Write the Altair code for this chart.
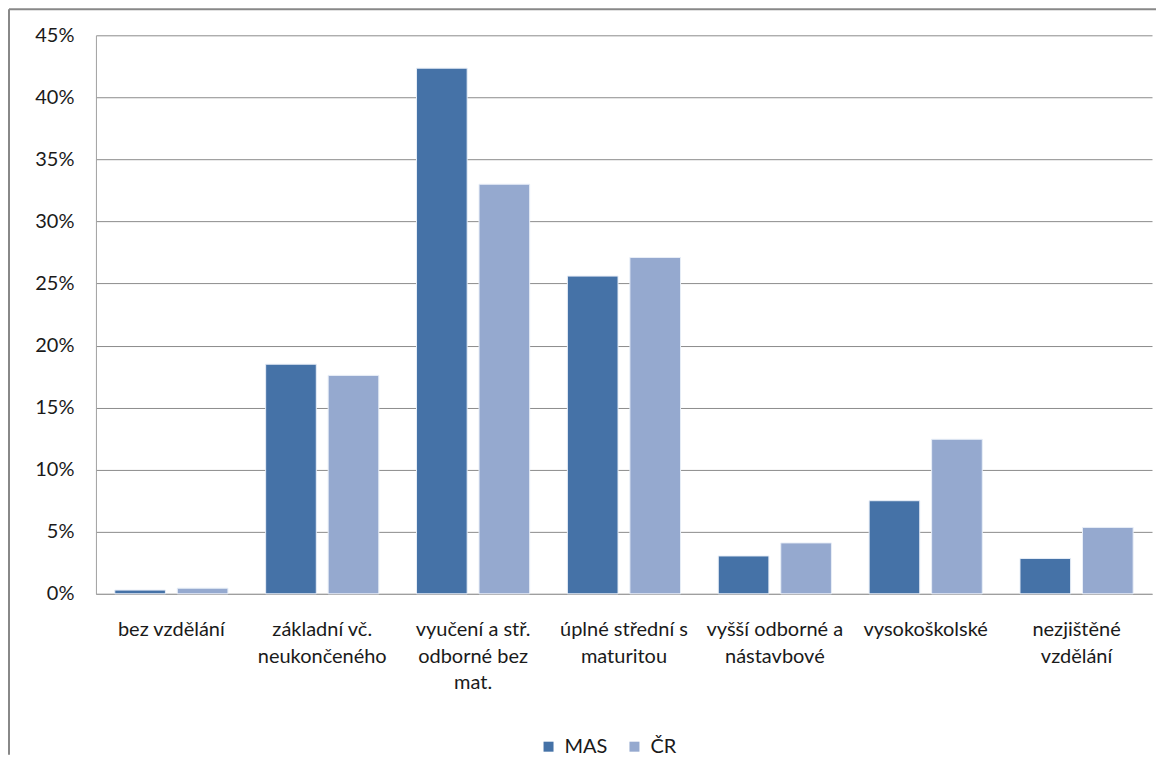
import altair as alt
import pandas as pd

# ---- data ----
categories = [
    "bez vzdělání",
    "základní vč.|neukončeného",
    "vyučení a stř.|odborné bez|mat.",
    "úplné střední s|maturitou",
    "vyšší odborné a|nástavbové",
    "vysokoškolské",
    "nezjištěné|vzdělání",
]
series = ["MAS", "ČR"]
mas_values = [0.3, 18.5, 42.35, 25.6, 3.05, 7.5, 2.85]
cr_values = [0.45, 17.6, 33.0, 27.1, 4.1, 12.45, 5.35]
y_ticks = [0, 5, 10, 15, 20, 25, 30, 35, 40, 45]
colors = ["#4572A7", "#95A9CF"]

rows = []
for cat, m, c in zip(categories, mas_values, cr_values):
    rows.append({"kategorie": cat, "serie": "MAS", "hodnota": m})
    rows.append({"kategorie": cat, "serie": "ČR", "hodnota": c})
df = pd.DataFrame(rows)

FONT = "Lato"
FS = 20
GRID = "#8c8c8c"
TEXT = "#1a1a1a"

bars = alt.Chart(df).mark_bar(stroke="#e8eef7", strokeWidth=1).encode(
    x=alt.X(
        "kategorie:N",
        sort=categories,
        scale=alt.Scale(paddingInner=0.25, paddingOuter=0.125),
        axis=alt.Axis(
            title=None,
            labelAngle=0,
            labelExpr="split(datum.label, '|')",
            ticks=False,
            domainColor="#a0a0a0",
            domainWidth=1,
            labelPadding=26,
            labelFontSize=FS,
            labelLineHeight=26.5,
            labelLimit=300,
            labelBaseline="top",
            labelFont=FONT,
            labelColor=TEXT,
            grid=False,
        ),
    ),
    xOffset=alt.XOffset(
        "serie:N",
        sort=series,
        scale=alt.Scale(paddingInner=0.19, paddingOuter=0),
    ),
    y=alt.Y(
        "hodnota:Q",
        scale=alt.Scale(domain=[0, 45], nice=False),
        axis=alt.Axis(
            title=None,
            values=y_ticks,
            labelExpr="datum.value + '%'",
            ticks=False,
            domainColor="#a0a0a0",
            domainWidth=1,
            gridColor=GRID,
            gridWidth=1,
            labelPadding=22,
            labelFontSize=FS,
            labelFont=FONT,
            labelColor=TEXT,
            minExtent=88,
            maxExtent=88,
        ),
    ),
    color=alt.Color(
        "serie:N",
        sort=series,
        scale=alt.Scale(domain=series, range=colors),
        legend=alt.Legend(
            title=None,
            orient="none",
            direction="horizontal",
            legendX=443,
            legendY=702,
            symbolType="square",
            symbolSize=100,
            symbolStrokeWidth=0,
            labelFontSize=FS,
            labelFont=FONT,
            labelColor=TEXT,
            labelOffset=6,
            columnPadding=17,
            padding=0,
        ),
    ),
)

one = pd.DataFrame({"a": [0]})
border_top = alt.Chart(one).mark_rule(color="#888888", strokeWidth=2).encode(
    x=alt.value(-87), x2=alt.value(1061), y=alt.value(-26)
)
border_left = alt.Chart(one).mark_rule(color="#888888", strokeWidth=2).encode(
    x=alt.value(-87), y=alt.value(-26), y2=alt.value(720)
)

chart = (
    alt.layer(bars, border_top, border_left)
    .properties(width=1057, height=559, padding=0, background="white")
    .configure_view(stroke=None)
)

chart.save("out.html", embed_options={"renderer": "svg", "actions": False})
